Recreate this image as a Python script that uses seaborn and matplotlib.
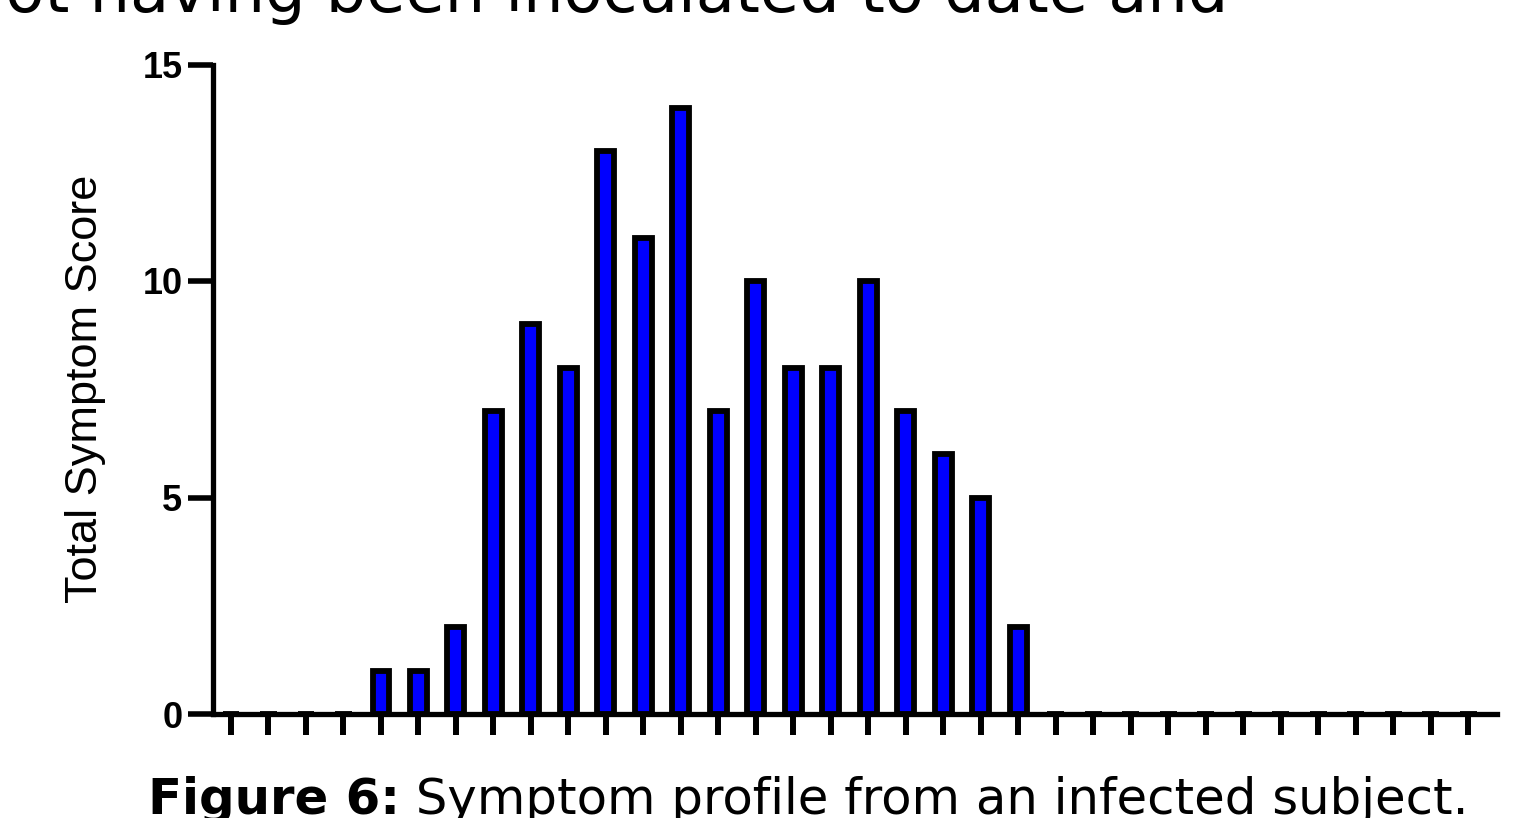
import matplotlib
matplotlib.use("Agg")
import matplotlib.pyplot as plt
import seaborn as sns
import pandas as pd

# ---- data ----
days = list(range(1, 35))
scores = [0, 0, 0, 0, 1, 1, 2, 7, 9, 8, 13, 11, 14, 7, 10, 8, 8, 10, 7, 6, 5, 2,
          0, 0, 0, 0, 0, 0, 0, 0, 0, 0, 0, 0]
y_ticks = [0, 5, 10, 15]
y_label = "Total Symptom Score"
top_text = "not having been inoculated to date and"
caption_bold = "Figure 6:"
caption_rest = " Symptom profile from an infected subject."

sns.set_theme(style="ticks")
plt.rcParams['font.family'] = ['Liberation Sans', 'DejaVu Sans']

W, H = 1539, 818
fig = plt.figure(figsize=(W / 100, H / 100), dpi=100)
fig.patch.set_facecolor("white")

x0, x1 = 213, 1497
ytop, ybot = 64.5, 714
ax = fig.add_axes([x0 / W, (H - ybot) / H, (x1 - x0) / W, (ybot - ytop) / H])

df = pd.DataFrame({"day": days, "score": scores})
sns.barplot(data=df, x="day", y="score", ax=ax, color="#0000FF", saturation=1,
            width=0.45, edgecolor="black", linewidth=4.2, order=days)
for p in ax.patches:
    p.set_zorder(3)

ax.set_xlim(-0.48, len(days) - 1 + 0.77)
ax.set_ylim(0, 15)
ax.set_yticks(y_ticks)
ax.set_yticklabels([str(v) for v in y_ticks], fontsize=26, fontweight="bold")
ax.set_xticklabels([])
ax.set_xlabel("")
ax.set_ylabel(y_label, fontsize=32.5, color="black")
ax.yaxis.set_label_coords(-0.083, 0.5)

for s in ["top", "right"]:
    ax.spines[s].set_visible(False)
for s in ["left", "bottom"]:
    ax.spines[s].set_linewidth(3.8)
    ax.spines[s].set_color("black")
ax.spines["left"].set_capstyle("projecting")
ax.tick_params(axis="y", length=18, width=4, pad=4, colors="black")
ax.tick_params(axis="x", length=15, width=4.3, colors="black")
ax.set_facecolor("white")
ax.grid(False)

# document text fragments around the figure
doc_font = ["DejaVu Sans"]
fig.text(1228 / W, 1 - 12 / H, top_text, ha="right", va="baseline",
         fontsize=46, family=doc_font, color="black")
t1 = fig.text(148 / W, 1 - 814 / H, caption_bold, ha="left", va="baseline",
              fontsize=35.8, fontweight="bold", family=doc_font, color="black")
fig.canvas.draw()
bb = t1.get_window_extent()
fig.text(bb.x1 / W, 1 - 814 / H, caption_rest, ha="left", va="baseline",
         fontsize=35.8, family=doc_font, color="black")

fig.savefig("out.png", dpi=100, facecolor="white")
